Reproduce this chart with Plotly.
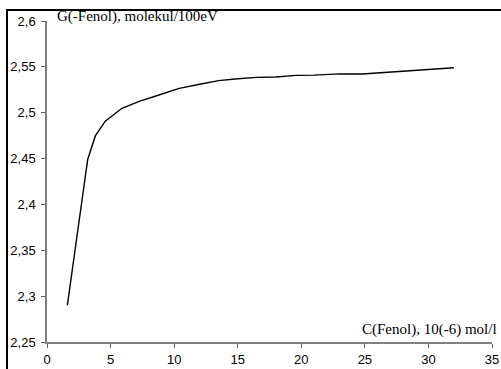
import plotly.graph_objects as go

conc = [1.6, 2.4, 3.2, 3.8, 4.6, 5.9, 7.3, 8.5, 10.4, 12.0, 13.5, 15.0, 16.5, 18.0, 19.6, 21.0, 22.2, 23.0, 24.8, 26.5, 28.5, 30.5, 32.0]
g_val = [2.290, 2.372, 2.449, 2.4747, 2.491, 2.5048, 2.5127, 2.518, 2.5265, 2.531, 2.535, 2.537, 2.5385, 2.539, 2.5407, 2.541, 2.5417, 2.5424, 2.5422, 2.544, 2.546, 2.548, 2.549]

x_ticks = [0, 5, 10, 15, 20, 25, 30, 35]
y_ticks = [2.25, 2.3, 2.35, 2.4, 2.45, 2.5, 2.55, 2.6]
y_tick_text = ["2,25", "2,3", "2,35", "2,4", "2,45", "2,5", "2,55", "2,6"]

W, H = 501, 369
L, R, T, B = 47, 9, 21, 27
pw, ph = W - L - R, H - T - B


def px_x(p):
    return (p - L) / pw


def px_y(p):
    return (H - B - p) / ph


fig = go.Figure()
fig.add_trace(go.Scatter(x=conc, y=g_val, mode="lines",
                         line=dict(color="black", width=1.4), hoverinfo="skip"))

axis_common = dict(showgrid=False, zeroline=False, showline=True, linecolor="#808080",
                   linewidth=1.5, ticks="outside", ticklen=4, tickcolor="#606060",
                   tickwidth=1, automargin=False,
                   tickfont=dict(family="Liberation Sans, Arial", size=13, color="black"))

fig.update_xaxes(range=[0, 35], tickvals=x_ticks, ticktext=[str(v) for v in x_ticks],
                 ticklabelstandoff=1, **axis_common)
fig.update_yaxes(range=[2.25, 2.6], tickvals=y_ticks, ticktext=y_tick_text,
                 ticklabelstandoff=3, **axis_common)

# outer frame (cropped at right and bottom)
fig.add_shape(type="rect", xref="paper", yref="paper", layer="above",
              x0=px_x(7), x1=px_x(W + 10), y0=px_y(H + 10), y1=px_y(10),
              line=dict(color="black", width=2), fillcolor="rgba(0,0,0,0)")

fig.add_annotation(text="G(-Fenol), molekul/100eV", xref="paper", yref="paper",
                   x=px_x(55), y=px_y(16), xanchor="left", yanchor="middle",
                   showarrow=False, font=dict(family="Liberation Serif, Times New Roman", size=15, color="black"))
fig.add_annotation(text="C(Fenol), 10(-6) mol/l", xref="paper", yref="paper",
                   x=px_x(499), y=px_y(329), xanchor="right", yanchor="middle",
                   showarrow=False, font=dict(family="Liberation Serif, Times New Roman", size=15, color="black"))

fig.update_layout(width=W, height=H, margin=dict(l=L, r=R, t=T, b=B, autoexpand=False),
                  paper_bgcolor="white", plot_bgcolor="white", showlegend=False)

fig.write_html("out.html")
